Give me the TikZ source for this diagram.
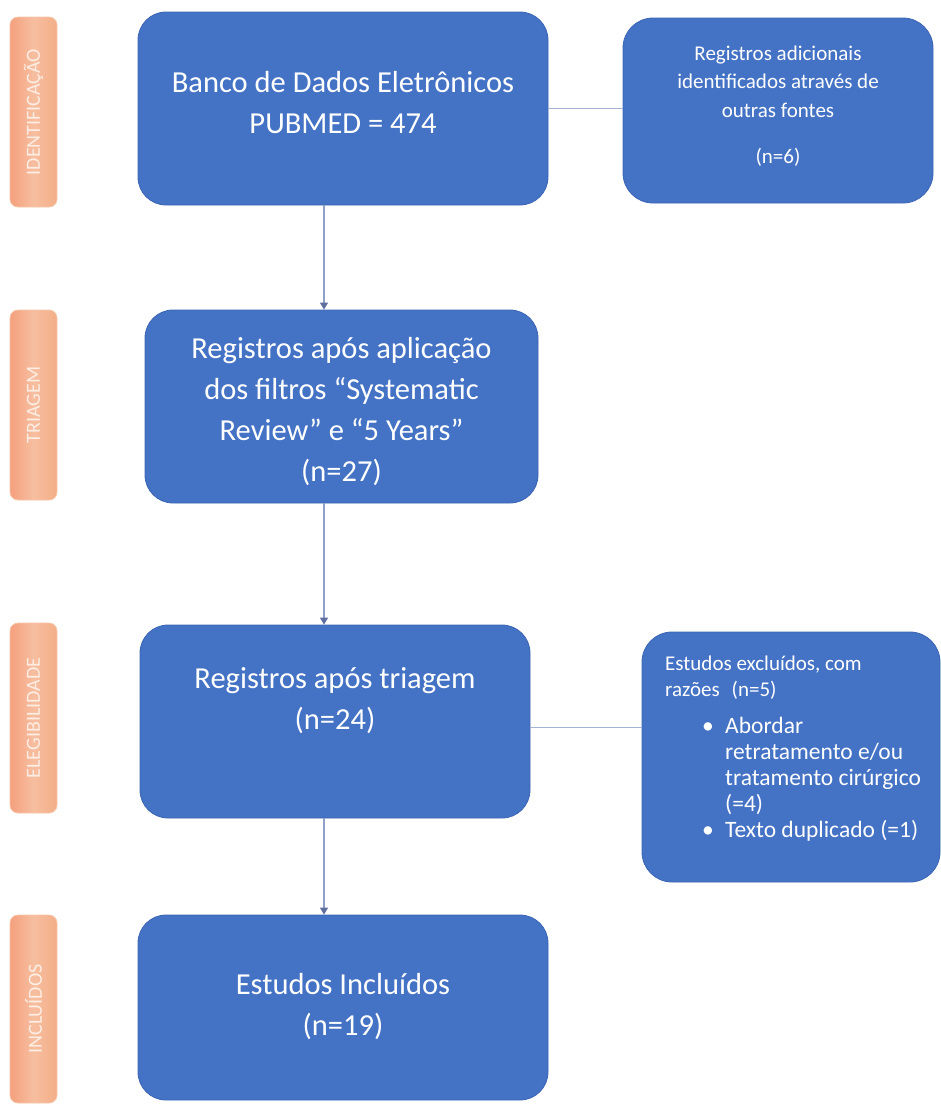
\documentclass[tikz,border=0pt]{standalone}
\usepackage{fontspec}
\setmainfont{Carlito}
\usetikzlibrary{arrows.meta,calc}
\definecolor{boxblue}{HTML}{4472C4}
\definecolor{boxedge}{HTML}{3B65B3}
\definecolor{linecol}{HTML}{8FA0C8}
\definecolor{tipcol}{HTML}{5E6E9E}
\definecolor{phasefill}{HTML}{F4AE88}
\definecolor{phaseedge}{HTML}{F7C6A8}
\definecolor{phasetext}{HTML}{FDEDE3}
\tikzset{
  mainbox/.style={draw=boxedge, line width=0.8pt, fill=boxblue, rounded corners=28pt, inner sep=0pt},
  sidebox/.style={draw=boxedge, line width=0.8pt, fill=boxblue, rounded corners=30pt, inner sep=0pt},
  maintext/.style={text=white, font=\fontsize{30.5}{41}\selectfont, align=center, inner sep=0pt},
  sidetext/.style={text=white, font=\fontsize{21}{28.5}\selectfont, align=center, inner sep=0pt},
  listtext/.style={text=white, font=\fontsize{21}{26}\selectfont, align=left, inner sep=0pt},
  phase/.style={draw=phaseedge, line width=0.8pt, left color=phasefill!92!red, right color=phasefill, middle color=phasefill!80!white, rounded corners=8pt, minimum width=47pt, inner sep=0pt},
  phasetext/.style={text=phasetext, font=\fontsize{20}{20}\selectfont, rotate=90, inner sep=0pt},
  arr/.style={draw=linecol, line width=1.3pt, -{Triangle[length=7pt,width=8pt,color=tipcol]}},
  link/.style={draw=linecol!80!white, line width=1.2pt}
}
\newcommand{\itemfont}{\fontsize{23.5}{26}\selectfont}
\begin{document}
\begin{tikzpicture}[x=1pt,y=-1pt]
\useasboundingbox (0,0) rectangle (941,1106);
% phase labels
\node[phase, minimum height=190pt] (p1) at (33.5,112) {};
\node[phasetext] (p1t) at (p1.center) {IDENTIFICAÇÃO};
\node[phase, minimum height=190pt] (p2) at (33.5,405) {};
\node[phasetext] (p2t) at (p2.center) {TRIAGEM};
\node[phase, minimum height=190pt] (p3) at (33.5,718) {};
\node[phasetext] (p3t) at (p3.center) {ELEGIBILIDADE};
\node[phase, minimum height=188pt] (p4) at (33.5,1009) {};
\node[phasetext] (p4t) at (p4.center) {INCLUÍDOS};
% main boxes
\node[mainbox, minimum width=410pt, minimum height=193pt] (b1) at (343,108.5) {};
\node[maintext] (b1t) at (343,103) {Banco de Dados Eletrônicos\\PUBMED = 474};
\node[mainbox, minimum width=393pt, minimum height=193pt] (b2) at (341.5,406.5) {};
\node[maintext] (b2t) at (341.5,412) {Registros após aplicação\\dos filtros “Systematic\\Review” e “5 Years”\\(n=27)};
\node[mainbox, minimum width=390pt, minimum height=193pt] (b3) at (335,721.5) {};
\node[maintext] (b3t) at (335,701) {Registros após triagem\\(n=24)};
\node[mainbox, minimum width=410pt, minimum height=185pt] (b4) at (343,1007.5) {};
\node[maintext] (b4t) at (343,1007) {Estudos Incluídos\\(n=19)};
% side boxes
\node[sidebox, minimum width=310pt, minimum height=185pt] (r1) at (778,110.5) {};
\node[sidetext] (r1t) at (778,106) {Registros adicionais\\identificados através de\\outras fontes\\[18pt](n=6)};
\node[sidebox, minimum width=298pt, minimum height=250pt] (r2) at (791,757) {};
\node[listtext, anchor=north west] (r2t) at (665,656) {Estudos excluídos, com\\razões\hspace{12pt}(n=5)\\[11pt]%
{\itemfont\hspace*{37pt}\makebox[23pt][l]{•}Abordar}\\
{\itemfont\hspace*{60pt}retratamento e/ou}\\
{\itemfont\hspace*{60pt}tratamento cirúrgico}\\
{\itemfont\hspace*{60pt}(=4)}\\
{\itemfont\hspace*{37pt}\makebox[23pt][l]{•}Texto duplicado (=1)}};
% connectors
\coordinate (ax) at (324,0);
\draw[arr] (b1.south -| ax) -- (b2.north -| ax);
\draw[arr] (b2.south -| ax) -- (b3.north -| ax);
\draw[arr] (b3.south -| ax) -- (b4.north -| ax);
\draw[link] (b1.east) -- (b1.east -| r1.west);
\draw[link] ($(b3.east)+(0,6)$) -- ($(b3.east -| r2.west)+(0,6)$);
\end{tikzpicture}
\end{document}
